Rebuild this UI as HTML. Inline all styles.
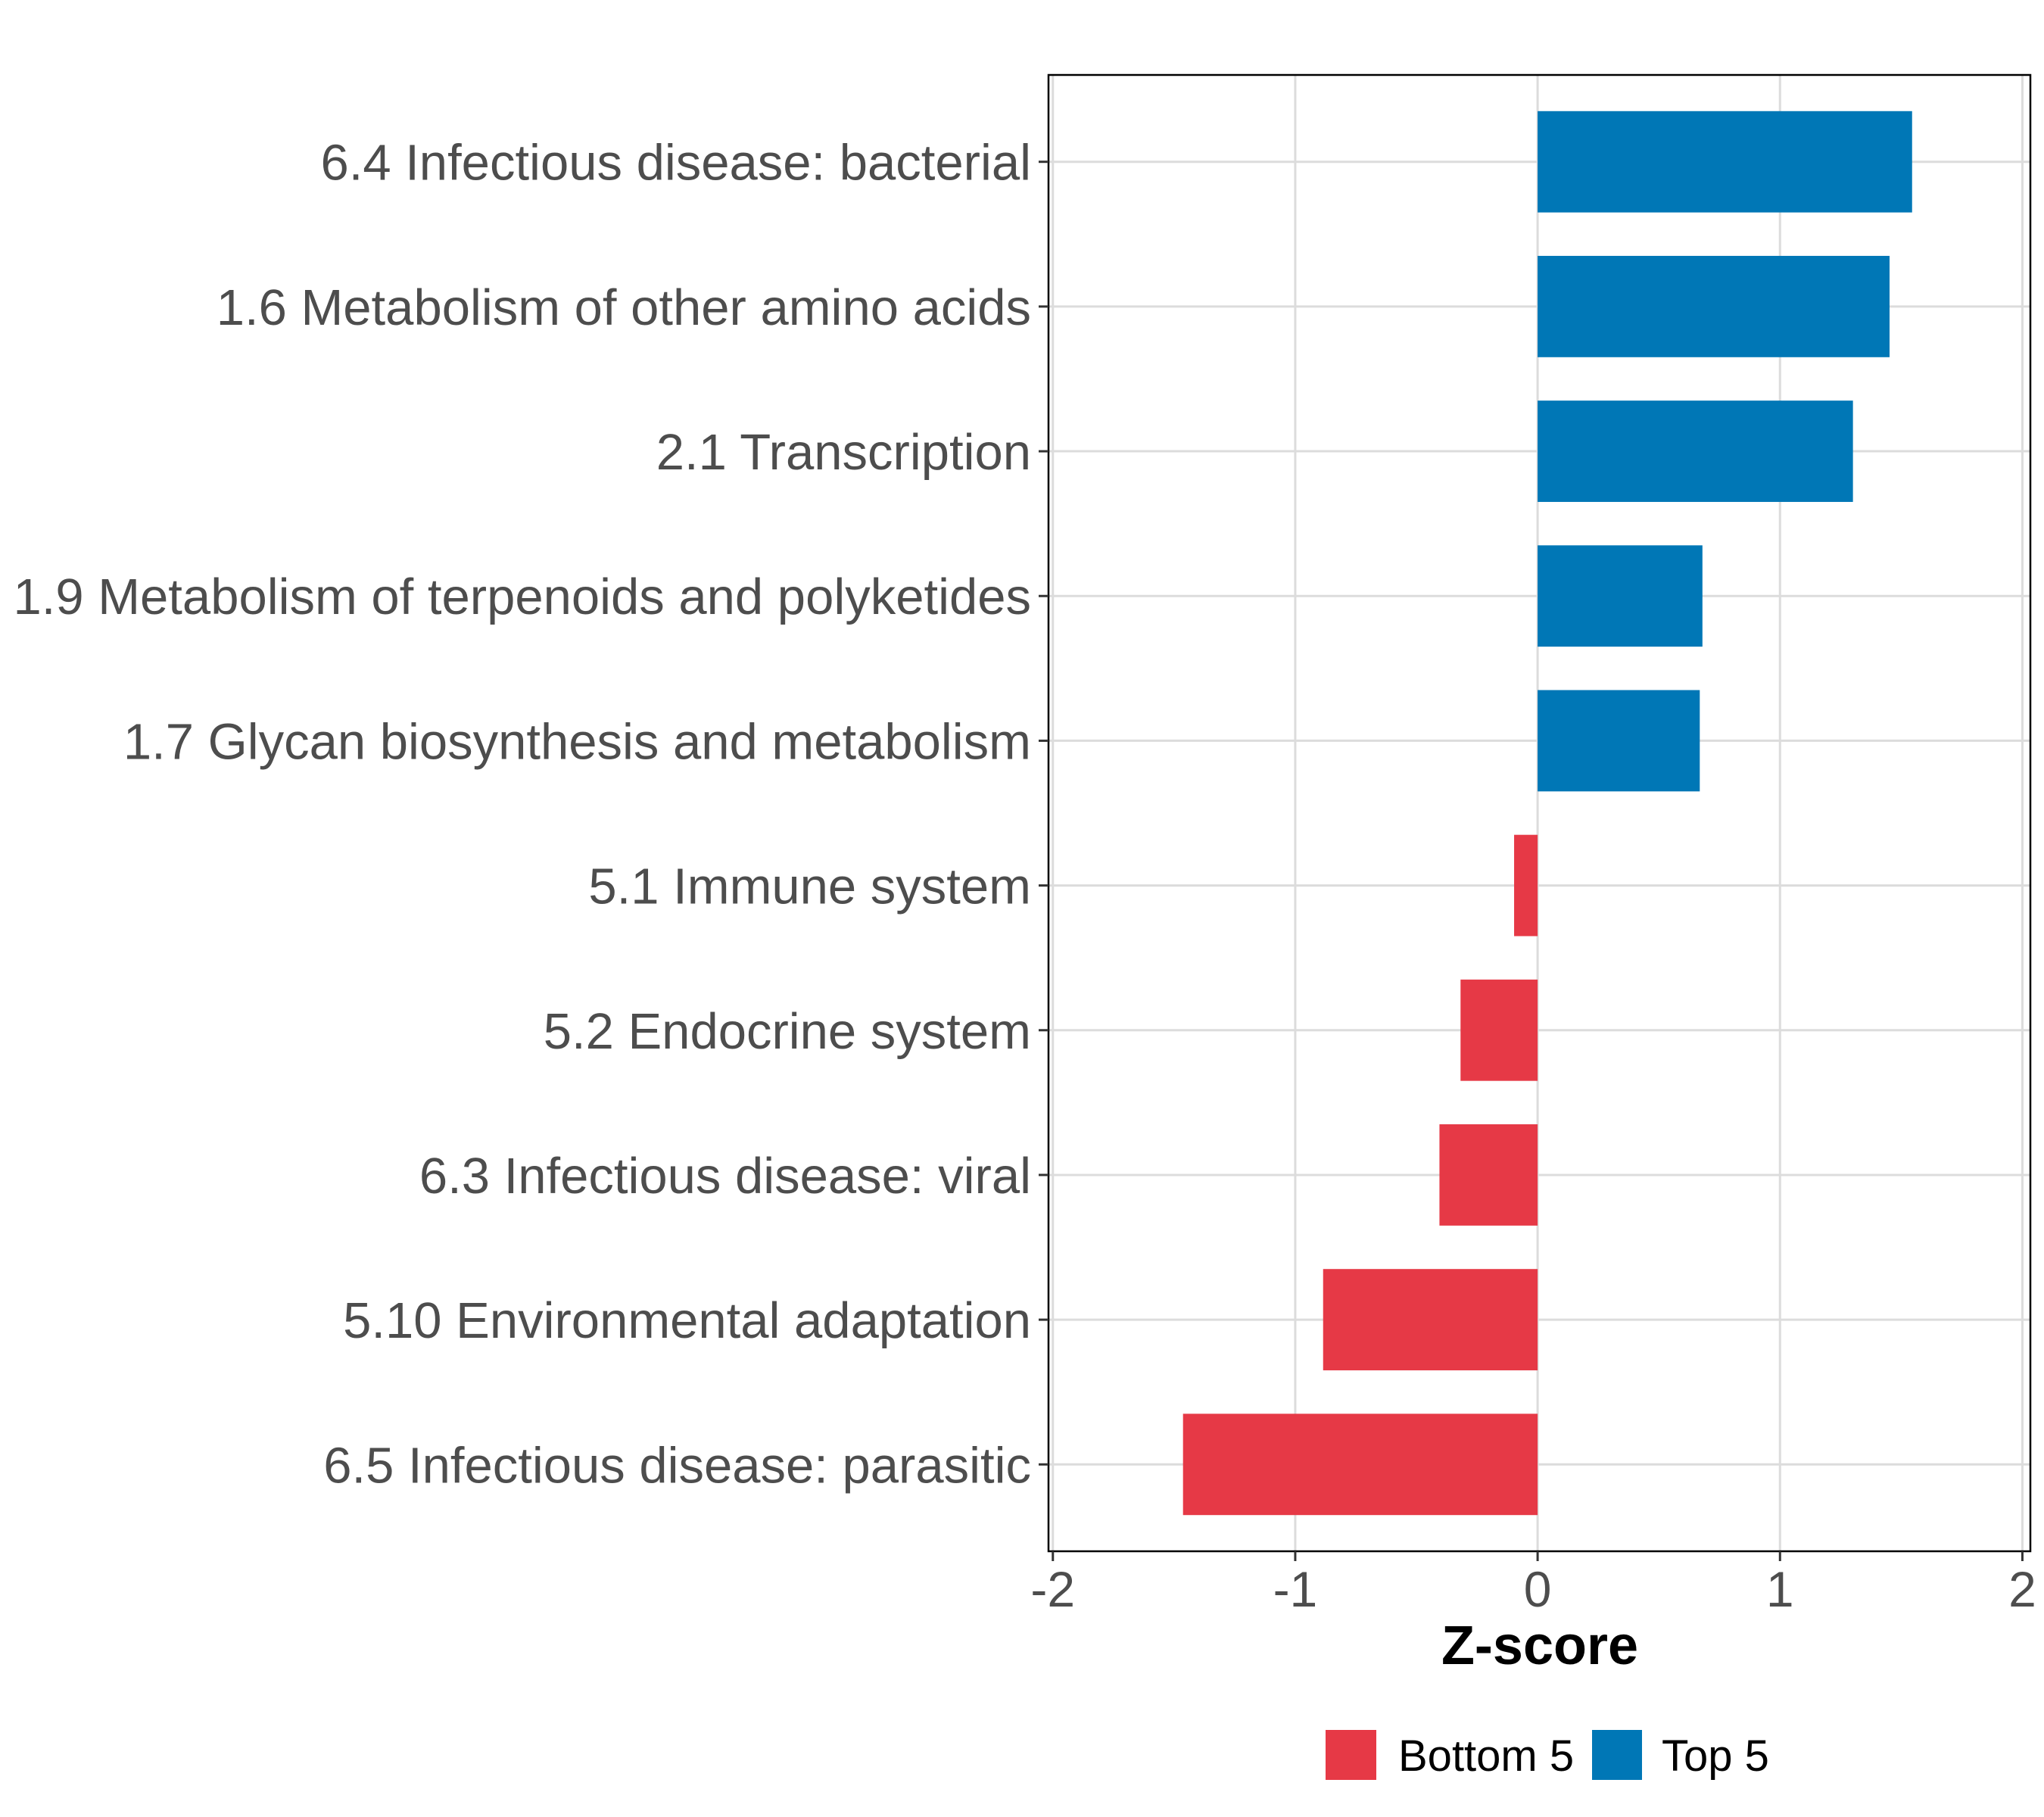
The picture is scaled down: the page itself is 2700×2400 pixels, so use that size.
<!DOCTYPE html>
<html><head><meta charset="utf-8"><style>html,body{margin:0;padding:0;background:#fff}svg{display:block}</style></head>
<body>
<svg id="chart" width="2700" height="2400" xmlns="http://www.w3.org/2000/svg" font-family="Liberation Sans, sans-serif">
<rect width="2700" height="2400" fill="#fff"/>
<g id="grid"></g>
<g id="bars"></g>
<rect x="1385" y="99" width="1297" height="1950" fill="none" stroke="#000" stroke-width="2.5"/>
<g id="yaxis"></g>
<g id="xaxis"></g>
<text x="2034" y="2198" font-size="72" font-weight="bold" text-anchor="middle" fill="#000">Z-score</text>
<g>
<rect x="1751" y="2285" width="67" height="66" fill="#E63946"/>
<text x="1847" y="2339" font-size="58" fill="#000">Bottom 5</text>
<rect x="2103" y="2285" width="66" height="66" fill="#0077B6"/>
<text x="2195" y="2339" font-size="58" fill="#000">Top 5</text>
</g>
</svg>
<script>
const categories = ["6.4 Infectious disease: bacterial","1.6 Metabolism of other amino acids","2.1 Transcription","1.9 Metabolism of terpenoids and polyketides","1.7 Glycan biosynthesis and metabolism","5.1 Immune system","5.2 Endocrine system","6.3 Infectious disease: viral","5.10 Environmental adaptation","6.5 Infectious disease: parasitic"];
const zscores = [1.545, 1.452, 1.301, 0.680, 0.669, -0.097, -0.318, -0.405, -0.885, -1.463];
const groups = ["Top 5","Top 5","Top 5","Top 5","Top 5","Bottom 5","Bottom 5","Bottom 5","Bottom 5","Bottom 5"];
const xTicks = [-2, -1, 0, 1, 2];
const xTickLabels = ["-2", "-1", "0", "1", "2"];

const NS = "http://www.w3.org/2000/svg";
const pLeft = 1385, pRight = 2682, pTop = 99, pBottom = 2049;
const xMin = -2.018, xMax = 2.033;
function xs(v){ return pLeft + (v - xMin) / (xMax - xMin) * (pRight - pLeft); }
const step = (pBottom - pTop) / (categories.length - 1 + 1.2);
function ys(i){ return pTop + (0.6 + i) * step; }
function mk(tag, attrs, parent){ const e = document.createElementNS(NS, tag); for (const k in attrs) e.setAttribute(k, attrs[k]); parent.appendChild(e); return e; }
const grid = document.getElementById('grid'), bars = document.getElementById('bars');
const yax = document.getElementById('yaxis'), xax = document.getElementById('xaxis');
const colors = {"Top 5": "#0077B6", "Bottom 5": "#E63946"};

xTicks.forEach((t, i) => {
  const x = xs(t);
  const g = mk('line', {x1: x, x2: x, y1: pTop, y2: pBottom, stroke: '#dcdcdc', 'stroke-width': 3}, grid);
  
  
  const tk = mk('line', {x1: x, x2: x, y1: pBottom, y2: pBottom + 13, stroke: '#333', 'stroke-width': 3}, xax);
  
  
  const tl = mk('text', {x: x, y: 2122, 'font-size': 66, 'text-anchor': 'middle', fill: '#4d4d4d'}, xax);
  tl.textContent = xTickLabels[i];
  
  
});

categories.forEach((c, i) => {
  const y = ys(i);
  const g = mk('line', {x1: pLeft, x2: pRight, y1: y, y2: y, stroke: '#dcdcdc', 'stroke-width': 3}, grid);
  
  
  const v = zscores[i];
  const x0 = xs(0), x1 = xs(v);
  const bh = step * 0.7;
  const b = mk('rect', {x: Math.min(x0, x1), y: y - bh / 2, width: Math.abs(x1 - x0), height: bh, fill: colors[groups[i]]}, bars);
  
  
  const tk = mk('line', {x1: pLeft - 13, x2: pLeft, y1: y, y2: y, stroke: '#333', 'stroke-width': 3}, yax);
  
  
  const tl = mk('text', {x: pLeft - 23, y: y + 24, 'font-size': 67, 'text-anchor': 'end', fill: '#4d4d4d'}, yax);
  tl.textContent = c;
  
  
});
</script>
</body></html>
